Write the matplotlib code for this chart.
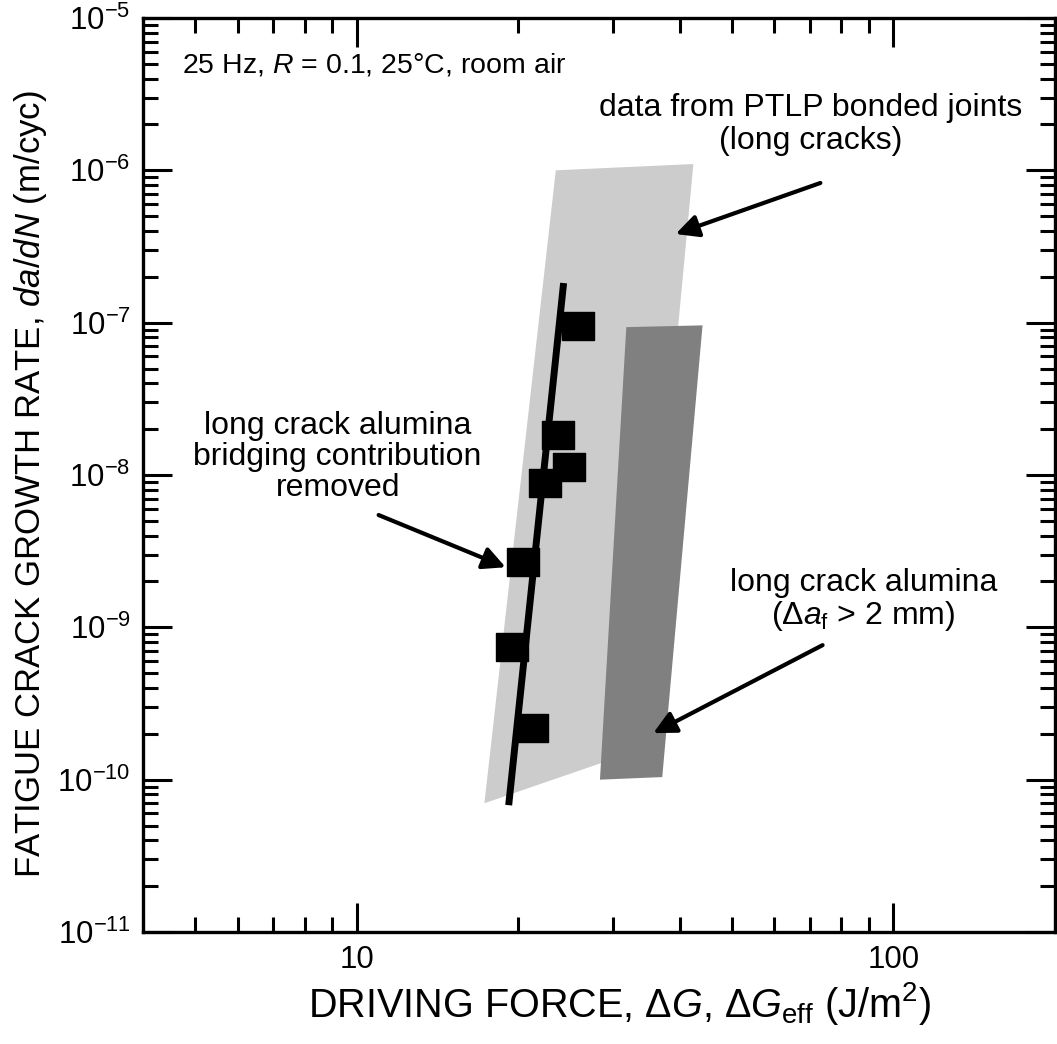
import matplotlib
matplotlib.use('Agg')
import matplotlib.pyplot as plt
import matplotlib.ticker as mtick
from matplotlib.path import Path

plt.rcParams['font.family'] = ['Liberation Sans', 'DejaVu Sans']
plt.rcParams['mathtext.fontset'] = 'custom'
plt.rcParams['mathtext.rm'] = 'Liberation Sans'
plt.rcParams['mathtext.it'] = 'Liberation Sans:italic'
plt.rcParams['mathtext.bf'] = 'Liberation Sans:bold'
plt.rcParams['axes.unicode_minus'] = False

# ── data ──────────────────────────────────────────────────────────────────────
# PTLP bonded joints band (light grey)
ptlp_x = [17.3, 23.5, 42.4, 33.5]
ptlp_y = [7.0e-11, 1.0e-6, 1.1e-6, 1.56e-10]
# long crack alumina band (dark grey)
alum_x = [28.4, 31.8, 44.1, 37.1]
alum_y = [1.0e-10, 9.35e-8, 9.6e-8, 1.04e-10]
# bridging-removed alumina points + fit line
dG_eff = [25.8, 23.7, 24.9, 22.4, 20.4, 19.5, 21.2]
dadN = [9.5e-8, 1.83e-8, 1.13e-8, 8.85e-9, 2.68e-9, 7.4e-10, 2.2e-10]
fit_x = [19.2, 24.3]
fit_y = [6.8e-11, 1.82e-7]

fig = plt.figure(figsize=(10.57, 10.44), dpi=100)
ax = fig.add_axes([143/1057, 1-932/1044, 912/1057, 914/1044])

ax.fill(ptlp_x, ptlp_y, color='#cccccc', lw=0, zorder=1)
ax.fill(alum_x, alum_y, color='#808080', lw=0, zorder=2)
ax.plot(fit_x, fit_y, color='k', lw=5, solid_capstyle='butt', zorder=3)

# slightly flat square markers, as in the original
rect = Path([(-0.5, -0.435), (0.5, -0.435), (0.5, 0.435), (-0.5, 0.435), (-0.5, -0.435)],
            [Path.MOVETO, Path.LINETO, Path.LINETO, Path.LINETO, Path.CLOSEPOLY])
ax.plot(dG_eff, dadN, ls='none', marker=rect, ms=22.5, color='k', mec='k', zorder=4)

ax.set_xscale('log')
ax.set_yscale('log')
ax.set_xlim(4, 200)
ax.set_ylim(1e-11, 1e-5)

ax.xaxis.set_major_locator(mtick.FixedLocator([10, 100]))
ax.xaxis.set_major_formatter(mtick.FixedFormatter(['10', '100']))
ax.xaxis.set_minor_locator(mtick.LogLocator(base=10, subs=range(2, 10), numticks=20))
ax.xaxis.set_minor_formatter(mtick.NullFormatter())
ax.yaxis.set_major_locator(mtick.LogLocator(base=10, numticks=20))
ax.yaxis.set_minor_locator(mtick.LogLocator(base=10, subs=range(2, 10), numticks=20))
ax.yaxis.set_minor_formatter(mtick.NullFormatter())

ax.tick_params(which='both', direction='in', top=True, right=True, width=2.2, labelsize=22.5)
ax.tick_params(which='major', length=21, pad=9)
ax.tick_params(which='minor', length=10.5)
for s in ax.spines.values():
    s.set_linewidth(2.4)

ax.set_xlabel(r'DRIVING FORCE, $\Delta G$, $\Delta G_{\rm eff}$ (J/m$^2$)', fontsize=28.5)
ax.xaxis.set_label_coords(0.523, -0.052)
ax.set_ylabel(r'FATIGUE CRACK GROWTH RATE, $da/dN$ (m/cyc)', fontsize=25)
ax.yaxis.set_label_coords(-0.103, 0.49)

ax.text(0.043, 0.949, r'25 Hz, $R$ = 0.1, 25°C, room air', transform=ax.transAxes,
        fontsize=20.5, ha='left', va='center')

arrow = dict(arrowstyle='-|>', lw=3, color='k', mutation_scale=34, shrinkA=0, shrinkB=0)
ax.annotate('', xy=(39.3, 3.82e-7), xytext=(73.1, 8.26e-7), arrowprops=arrow)
ax.text(70.0, 2.0e-6, 'data from PTLP bonded joints\n(long cracks)', fontsize=23,
        ha='center', va='center', linespacing=1.12)

ax.annotate('', xy=(18.95, 2.48e-9), xytext=(10.99, 5.46e-9), arrowprops=arrow)
ax.text(9.22, 1.31e-8, 'long crack alumina\nbridging contribution\nremoved', fontsize=23,
        ha='center', va='center', linespacing=1.04)

ax.annotate('', xy=(35.7, 2.02e-10), xytext=(73.8, 7.64e-10), arrowprops=arrow)
ax.text(87.9, 1.49e-9, 'long crack alumina\n' + r'($\Delta a_{\rm f}$ > 2 mm)', fontsize=23,
        ha='center', va='center', linespacing=1.04)

fig.savefig('out.png', dpi=100)
